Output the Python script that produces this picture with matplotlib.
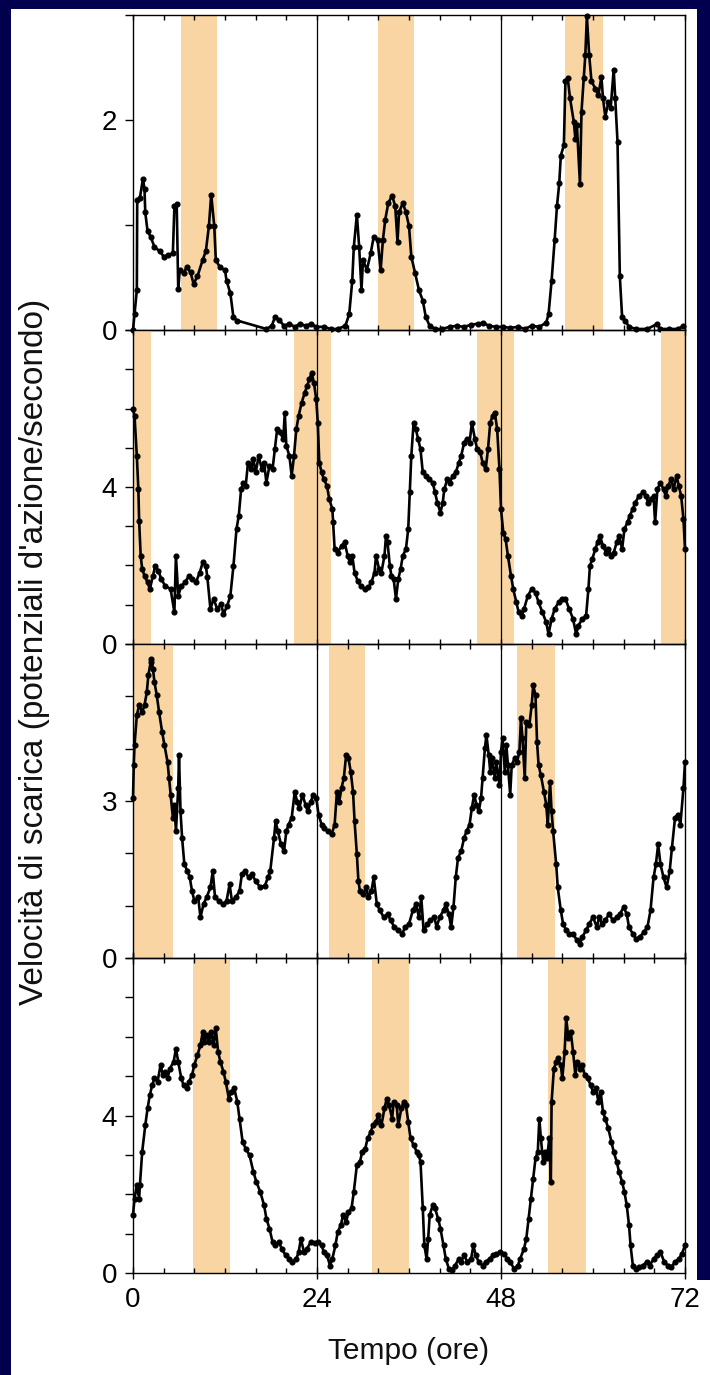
import numpy as np
import matplotlib
matplotlib.use('Agg')
import matplotlib.pyplot as plt
from matplotlib.ticker import MultipleLocator, FixedLocator
from matplotlib.patches import Rectangle

plt.rcParams['font.family'] = ['Liberation Sans', 'DejaVu Sans']

# ---- data (time in hours, rate in spikes/s)
t1 = [0.0, 0.2, 0.5, 0.55, 0.9, 1.3, 1.5, 1.6, 1.9, 2.3, 2.8, 3.5, 4.0, 4.5, 5.2, 5.4, 5.7, 5.9, 6.1, 6.6,
      7.0, 7.5, 7.9, 8.4, 9.1, 9.5, 9.9, 10.2, 10.6, 10.8, 11.3, 12.0, 12.2, 12.7, 13.1, 13.6, 17.4, 18.1, 18.5, 19.0,
      19.7, 20.4, 21.1, 21.8, 22.5, 23.2, 23.9, 24.9, 25.8, 26.7, 27.7, 28.2, 28.6, 28.8, 29.2, 29.5, 29.8, 30.0, 30.5, 31.0,
      31.4, 31.9, 32.3, 32.6, 32.9, 33.3, 33.8, 34.2, 34.5, 34.7, 35.2, 35.6, 36.0, 36.3, 36.8, 37.3, 37.8, 38.2, 38.7, 39.4,
      40.3, 41.3, 42.2, 43.2, 44.1, 45.0, 45.7, 46.4, 47.4, 48.3, 49.2, 50.2, 51.1, 52.0, 53.0, 53.9, 54.2, 54.6, 55.0, 55.3,
      55.6, 55.8, 56.2, 56.4, 56.7, 57.0, 57.5, 57.7, 57.9, 58.3, 58.5, 58.8, 59.0, 59.2, 59.5, 59.8, 60.3, 60.7, 61.1, 61.3,
      61.6, 62.0, 62.3, 62.7, 62.9, 63.2, 63.5, 63.8, 64.2, 64.7, 65.6, 67.1, 68.4, 68.7, 69.9, 71.1, 71.8]
v1 = [0.0, 0.15, 0.38, 1.24, 1.26, 1.44, 1.34, 1.12, 0.94, 0.89, 0.79, 0.75, 0.70, 0.71, 0.73, 1.18, 1.20, 0.39, 0.57, 0.54,
      0.60, 0.55, 0.44, 0.51, 0.67, 0.75, 0.99, 1.29, 0.99, 0.67, 0.60, 0.57, 0.47, 0.35, 0.12, 0.09, 0.01, 0.04, 0.12, 0.10,
      0.04, 0.06, 0.03, 0.06, 0.04, 0.06, 0.03, 0.03, 0.01, 0.01, 0.04, 0.15, 0.47, 0.79, 1.10, 0.79, 0.38, 0.67, 0.57, 0.73,
      0.89, 0.86, 0.57, 0.86, 1.05, 1.21, 1.28, 1.18, 0.84, 1.12, 1.21, 1.12, 0.99, 0.70, 0.54, 0.38, 0.28, 0.12, 0.04, 0.01,
      0.01, 0.03, 0.04, 0.03, 0.05, 0.06, 0.07, 0.04, 0.03, 0.03, 0.02, 0.03, 0.01, 0.04, 0.03, 0.07, 0.15, 0.47, 0.86, 1.18,
      1.40, 1.66, 1.76, 2.37, 2.40, 2.21, 1.98, 1.82, 1.95, 1.39, 2.08, 2.40, 2.62, 2.99, 2.62, 2.37, 2.30, 2.24, 2.41, 2.21,
      2.03, 2.17, 2.11, 2.48, 2.21, 1.79, 0.51, 0.12, 0.09, 0.03, 0.01, 0.01, 0.06, 0.01, 0.01, 0.01, 0.04]

t2 = [0.0, 0.2, 0.5, 0.7, 0.8, 1.0, 1.2, 1.5, 1.9, 2.2, 2.6, 2.9, 3.3, 3.7, 4.2, 4.9, 5.4, 5.6, 5.9, 6.3,
      6.8, 7.3, 7.7, 8.2, 8.7, 9.1, 9.5, 9.7, 10.1, 10.5, 11.0, 11.5, 11.8, 12.3, 12.7, 13.1, 13.5, 13.8, 14.1, 14.4,
      14.7, 15.0, 15.4, 15.7, 16.0, 16.4, 16.8, 17.1, 17.4, 17.8, 18.2, 18.5, 18.8, 19.2, 19.6, 19.8, 20.0, 20.4, 20.7, 21.0,
      21.3, 21.6, 22.0, 22.4, 22.7, 23.0, 23.3, 23.6, 23.9, 24.1, 24.3, 24.6, 24.9, 25.3, 25.6, 26.0, 26.1, 26.3, 26.7, 27.2,
      27.6, 28.0, 28.3, 28.6, 28.9, 29.3, 29.7, 30.2, 30.7, 31.1, 31.5, 31.7, 32.1, 32.4, 32.8, 33.0, 33.2, 33.5, 33.7, 34.0,
      34.3, 34.6, 34.9, 35.2, 35.6, 35.9, 36.1, 36.3, 36.6, 36.9, 37.2, 37.5, 37.8, 38.2, 38.6, 39.1, 39.4, 39.7, 40.1, 40.4,
      40.6, 41.0, 41.3, 41.7, 42.1, 42.5, 42.8, 43.2, 43.5, 43.9, 44.2, 44.6, 44.9, 45.3, 45.6, 46.0, 46.3, 46.6, 46.9, 47.2,
      47.5, 47.8, 48.0, 48.3, 48.6, 48.9, 49.3, 49.6, 50.0, 50.3, 50.7, 51.0, 51.5, 52.0, 52.5, 52.9, 53.4, 53.9, 54.2, 54.6,
      55.0, 55.5, 55.9, 56.4, 56.9, 57.4, 57.8, 58.1, 58.6, 59.1, 59.4, 59.6, 59.9, 60.3, 60.6, 60.9, 61.3, 61.7, 62.0, 62.4,
      62.7, 63.1, 63.4, 63.8, 64.1, 64.5, 64.8, 65.2, 65.5, 66.0, 66.5, 66.9, 67.2, 67.5, 67.9, 68.1, 68.4, 68.8, 69.2, 69.5,
      69.8, 70.2, 70.5, 70.9, 71.2, 71.5, 71.8, 72.0]
v2 = [5.98, 5.81, 4.79, 3.94, 3.14, 2.25, 1.91, 1.74, 1.57, 1.40, 1.74, 1.99, 1.87, 1.65, 1.48, 1.40, 0.81, 2.25, 1.23, 1.48,
      1.57, 1.74, 1.65, 1.57, 1.82, 2.08, 1.99, 1.70, 0.89, 1.15, 0.89, 1.02, 0.76, 0.98, 1.23, 1.99, 2.93, 3.27, 3.94, 4.11,
      4.03, 4.62, 4.45, 4.71, 4.37, 4.79, 4.45, 4.62, 4.11, 4.54, 4.45, 4.96, 5.47, 5.39, 5.22, 5.89, 5.05, 4.79, 4.28, 4.79,
      5.47, 5.81, 6.15, 6.40, 6.57, 6.74, 6.91, 6.66, 6.23, 5.64, 4.62, 4.37, 4.20, 4.03, 3.69, 3.44, 3.10, 2.42, 2.33, 2.50,
      2.59, 2.25, 2.08, 2.25, 1.82, 1.61, 1.48, 1.40, 1.44, 1.57, 1.82, 2.25, 1.91, 1.82, 2.25, 2.76, 2.59, 1.99, 1.74, 1.65,
      1.15, 1.65, 1.91, 2.25, 2.42, 2.93, 3.86, 4.79, 5.64, 5.47, 5.22, 4.96, 4.37, 4.28, 4.20, 4.11, 3.86, 3.60, 3.35, 3.60,
      3.94, 4.20, 4.11, 4.28, 4.37, 4.62, 4.79, 5.13, 5.22, 5.13, 5.64, 5.22, 4.96, 4.88, 4.62, 4.45, 4.96, 5.64, 5.81, 5.89,
      5.47, 4.45, 3.44, 2.84, 2.67, 2.25, 1.74, 1.40, 1.06, 0.81, 0.72, 0.89, 1.23, 1.40, 1.31, 1.06, 0.81, 0.55, 0.25, 0.64,
      0.89, 1.06, 1.15, 1.15, 0.89, 0.64, 0.25, 0.47, 0.64, 0.72, 1.40, 1.99, 2.16, 2.42, 2.59, 2.76, 2.50, 2.33, 2.42, 2.25,
      2.33, 2.59, 2.76, 2.42, 2.93, 3.10, 3.27, 3.44, 3.60, 3.77, 3.86, 3.77, 3.60, 3.69, 3.77, 3.10, 3.94, 4.11, 3.94, 3.77,
      4.03, 4.20, 3.94, 4.28, 4.03, 3.77, 3.18, 2.42]

t3 = [0.0, 0.1, 0.2, 0.5, 0.8, 1.2, 1.5, 1.8, 2.0, 2.3, 2.4, 2.6, 2.8, 3.1, 3.4, 3.8, 4.1, 4.5, 4.7, 4.9,
      5.2, 5.4, 5.6, 5.9, 6.0, 6.2, 6.4, 6.7, 7.1, 7.4, 7.7, 8.0, 8.5, 8.8, 9.2, 9.6, 10.1, 10.4, 10.7, 11.2,
      11.8, 12.2, 12.6, 12.9, 13.4, 13.9, 14.2, 14.6, 15.1, 15.5, 16.0, 16.6, 17.2, 17.6, 17.9, 18.4, 18.6, 18.9, 19.3, 19.7,
      20.0, 20.3, 20.7, 21.1, 21.4, 21.7, 22.1, 22.5, 22.8, 23.2, 23.5, 23.9, 24.2, 24.6, 24.9, 25.4, 25.9, 26.3, 26.6, 26.9,
      27.2, 27.5, 27.8, 28.1, 28.4, 28.7, 28.9, 29.2, 29.4, 29.6, 30.0, 30.4, 30.7, 31.1, 31.4, 31.8, 32.2, 32.7, 33.2, 33.6,
      34.1, 34.6, 35.1, 35.5, 36.0, 36.5, 36.9, 37.3, 37.6, 37.9, 38.4, 38.8, 39.3, 39.6, 40.0, 40.5, 40.8, 41.2, 41.5, 41.8,
      42.1, 42.4, 42.8, 43.2, 43.5, 43.9, 44.2, 44.5, 44.8, 45.1, 45.4, 45.6, 45.9, 46.1, 46.4, 46.6, 46.8, 47.2, 47.4, 47.8,
      48.0, 48.2, 48.5, 48.7, 48.9, 49.2, 49.4, 49.8, 50.1, 50.4, 50.6, 50.8, 51.1, 51.3, 51.7, 52.0, 52.2, 52.5, 52.7, 52.9,
      53.2, 53.6, 53.9, 54.1, 54.4, 54.6, 54.8, 55.2, 55.4, 55.8, 56.1, 56.5, 56.9, 57.4, 57.9, 58.3, 58.6, 59.1, 59.5, 60.0,
      60.5, 60.8, 61.2, 61.6, 62.1, 62.6, 63.1, 63.5, 64.0, 64.4, 64.7, 65.2, 65.6, 66.1, 66.6, 67.1, 67.5, 67.9, 68.2, 68.5,
      68.8, 69.2, 69.6, 70.0, 70.3, 70.7, 71.1, 71.4, 71.8, 72.0]
v3 = [3.06, 3.69, 4.07, 4.64, 4.83, 4.70, 4.83, 5.08, 5.40, 5.65, 5.72, 5.53, 5.27, 5.02, 4.70, 4.32, 4.07, 3.75, 3.44, 3.12,
      2.68, 2.93, 2.42, 3.25, 3.88, 2.80, 2.30, 1.79, 1.66, 1.54, 1.28, 1.09, 1.16, 0.78, 1.03, 1.16, 1.35, 1.66, 1.16, 1.09,
      1.03, 1.09, 1.41, 1.09, 1.16, 1.28, 1.60, 1.66, 1.54, 1.60, 1.47, 1.35, 1.38, 1.54, 1.66, 2.30, 2.61, 2.42, 2.17, 2.04,
      2.42, 2.55, 2.68, 3.18, 2.99, 2.87, 3.12, 2.93, 2.80, 2.99, 3.12, 3.06, 2.74, 2.55, 2.49, 2.42, 2.36, 2.55, 3.18, 2.99,
      3.25, 3.44, 3.88, 3.82, 3.56, 3.18, 2.61, 1.98, 1.47, 1.28, 1.22, 1.35, 1.16, 1.28, 1.54, 1.03, 0.91, 0.78, 0.84, 0.72,
      0.59, 0.53, 0.46, 0.59, 0.65, 0.91, 1.03, 0.78, 1.16, 0.53, 0.65, 0.72, 0.78, 0.59, 0.78, 0.91, 1.03, 0.84, 0.59, 0.97,
      1.54, 1.92, 2.04, 2.30, 2.42, 2.55, 2.87, 3.12, 2.93, 2.80, 3.06, 3.44, 4.01, 4.26, 3.88, 3.56, 3.82, 3.44, 3.75, 3.31,
      3.94, 4.20, 3.56, 4.07, 3.69, 3.12, 3.69, 3.82, 3.75, 3.94, 4.58, 4.20, 3.44, 4.51, 4.45, 4.83, 5.21, 5.02, 4.13, 3.69,
      3.49, 3.18, 2.93, 2.55, 3.37, 2.80, 2.42, 1.79, 1.35, 0.91, 0.65, 0.53, 0.46, 0.46, 0.34, 0.27, 0.40, 0.53, 0.65, 0.78,
      0.59, 0.78, 0.65, 0.72, 0.84, 0.72, 0.78, 0.84, 0.97, 0.84, 0.59, 0.46, 0.37, 0.40, 0.49, 0.59, 0.91, 1.54, 1.79, 2.17,
      1.79, 1.54, 1.35, 1.66, 2.11, 2.68, 2.74, 2.55, 3.25, 3.75]

t4 = [0.0, 0.2, 0.5, 0.8, 0.9, 1.2, 1.6, 1.9, 2.2, 2.5, 2.8, 3.2, 3.6, 3.9, 4.2, 4.5, 4.8, 5.3, 5.6, 5.9,
      6.3, 6.6, 7.0, 7.3, 7.7, 8.0, 8.4, 8.8, 9.1, 9.3, 9.6, 9.9, 10.2, 10.5, 10.8, 11.1, 11.4, 11.8, 12.1, 12.5,
      12.8, 13.2, 13.6, 13.9, 14.3, 14.7, 15.2, 15.7, 16.1, 16.6, 17.1, 17.4, 17.8, 18.2, 18.5, 19.0, 19.4, 19.9, 20.4, 20.8,
      21.3, 21.6, 21.9, 22.3, 22.7, 23.2, 23.7, 24.1, 24.6, 24.9, 25.3, 25.7, 26.0, 26.4, 26.7, 27.1, 27.4, 27.8, 28.1, 28.5,
      28.8, 29.2, 29.6, 29.9, 30.3, 30.6, 31.0, 31.3, 31.7, 32.0, 32.4, 32.8, 33.1, 33.4, 33.8, 34.0, 34.4, 34.6, 35.0, 35.3,
      35.6, 35.9, 36.2, 36.6, 37.0, 37.3, 37.5, 37.8, 38.0, 38.3, 38.5, 38.7, 39.1, 39.4, 39.8, 40.1, 40.5, 40.8, 41.2, 41.6,
      42.0, 42.5, 42.8, 43.2, 43.6, 44.1, 44.4, 44.7, 45.1, 45.6, 46.0, 46.5, 47.0, 47.4, 47.9, 48.4, 48.8, 49.2, 49.7, 50.2,
      50.5, 51.0, 51.3, 51.6, 51.9, 52.2, 52.5, 52.8, 53.0, 53.2, 53.5, 53.8, 54.0, 54.3, 54.5, 54.6, 54.9, 55.2, 55.4, 55.8,
      56.0, 56.3, 56.5, 56.8, 57.1, 57.4, 57.7, 57.9, 58.3, 58.6, 58.9, 59.3, 59.7, 60.0, 60.4, 60.7, 61.0, 61.3, 61.6, 62.0,
      62.4, 62.7, 63.1, 63.4, 63.8, 64.1, 64.4, 64.7, 64.9, 65.2, 65.6, 66.0, 66.5, 67.0, 67.4, 67.9, 68.4, 68.8, 69.3, 69.8,
      70.2, 70.7, 71.2, 71.6, 72.0]
v4 = [1.47, 1.89, 2.23, 1.89, 2.23, 3.08, 3.75, 4.18, 4.52, 4.77, 4.94, 4.86, 5.28, 5.03, 5.11, 4.94, 5.19, 5.36, 5.70, 5.36,
      4.94, 4.77, 4.69, 4.86, 5.03, 5.28, 5.53, 5.79, 6.13, 5.87, 6.04, 5.87, 6.13, 5.79, 6.21, 5.62, 5.36, 5.11, 4.86, 4.43,
      4.60, 4.69, 4.35, 3.92, 3.33, 3.16, 2.99, 2.57, 2.31, 2.06, 1.72, 1.38, 1.13, 0.79, 0.70, 0.79, 0.62, 0.45, 0.36, 0.28,
      0.36, 0.53, 0.87, 0.53, 0.62, 0.79, 0.75, 0.79, 0.70, 0.53, 0.45, 0.19, 0.36, 0.70, 1.04, 1.21, 1.47, 1.30, 1.55, 1.64,
      2.06, 2.74, 2.82, 3.08, 3.16, 3.42, 3.58, 3.75, 3.84, 4.01, 3.75, 4.18, 4.43, 4.26, 3.92, 4.35, 4.26, 3.75, 4.18, 4.35,
      4.26, 3.84, 3.42, 3.25, 3.08, 2.99, 2.82, 1.64, 0.70, 0.36, 0.87, 1.47, 1.72, 1.64, 1.38, 1.13, 0.70, 0.36, 0.11, 0.07,
      0.19, 0.36, 0.28, 0.45, 0.28, 0.36, 0.70, 0.45, 0.28, 0.19, 0.28, 0.36, 0.45, 0.49, 0.53, 0.49, 0.36, 0.28, 0.11, 0.19,
      0.36, 0.62, 0.87, 1.38, 1.89, 2.40, 2.91, 3.08, 3.92, 3.42, 2.82, 3.08, 2.91, 3.42, 2.31, 4.35, 5.19, 5.36, 5.45, 5.28,
      4.94, 5.62, 6.47, 5.96, 6.13, 5.62, 5.03, 5.36, 5.19, 5.28, 5.03, 4.94, 4.77, 4.60, 4.69, 4.35, 4.60, 4.09, 3.92, 3.67,
      3.33, 3.08, 2.82, 2.57, 2.31, 2.06, 1.72, 1.21, 0.70, 0.19, 0.11, 0.15, 0.19, 0.28, 0.19, 0.36, 0.45, 0.53, 0.28, 0.19,
      0.15, 0.28, 0.36, 0.49, 0.70]

# orange shaded intervals (hours) for each panel
bands1 = [(6.3, 11.0), (31.9, 36.7), (56.4, 61.3)]
bands2 = [(0.0, 2.4), (21.0, 25.8), (44.9, 49.7), (68.9, 72.0)]
bands3 = [(0.0, 5.2), (25.5, 30.3), (50.1, 55.0)]
bands4 = [(7.8, 12.6), (31.2, 36.0), (54.1, 59.1)]

ymax = [3, 8, 6, 8]
ylab_ticks = [[0, 2], [0, 4], [0, 3], [0, 4]]
xlab_ticks = [0, 24, 48, 72]

navy = '#02004e'
band_col = '#f9d5a3'

W, H = 710, 1375
fig = plt.figure(figsize=(W/100., H/100.), dpi=100)
fig.patch.set_facecolor(navy)

# white slide area (behind the axes)
fig.patches.append(Rectangle((11./W, 0), (697.-11.)/W, (H-9.)/H, transform=fig.transFigure,
                             facecolor='white', edgecolor='none', zorder=-10))
fig.patches.append(Rectangle((697./W, 0), (W-697.)/W, (H-1280.)/H, transform=fig.transFigure,
                             facecolor='white', edgecolor='none', zorder=-10))

edges = [15, 330, 644, 958, 1273]
left = 133./W
width = 552./W

series = [(t1, v1, bands1), (t2, v2, bands2), (t3, v3, bands3), (t4, v4, bands4)]

for k in range(4):
    top_px, bot_px = edges[k], edges[k+1]
    ax = fig.add_axes([left, 1 - bot_px/float(H), width, (bot_px - top_px)/float(H)])
    ax.set_zorder(5)
    ax.set_facecolor('none')
    t, v, bands = series[k]
    for b in bands:
        ax.axvspan(b[0], b[1], color=band_col, lw=0, zorder=0)
    for xv in (24, 48):
        ax.axvline(xv, color='black', lw=0.9, zorder=1)
    ax.plot(t, v, color='black', lw=1.9, marker='o', ms=3.4, zorder=3, clip_on=False)
    ax.set_xlim(0, 72)
    ax.set_ylim(0, ymax[k])

    for s in ax.spines.values():
        s.set_linewidth(1.0)
        s.set_color('black')

    ax.xaxis.set_major_locator(FixedLocator(xlab_ticks))
    ax.xaxis.set_minor_locator(MultipleLocator(4))
    ax.yaxis.set_major_locator(FixedLocator(ylab_ticks[k]))
    ax.yaxis.set_minor_locator(MultipleLocator(1))

    ax.tick_params(axis='y', which='both', direction='out', length=5.5, width=1.0,
                   labelsize=20, pad=6, colors='black')
    if k == 3:
        ax.tick_params(axis='x', which='major', direction='inout', length=8, width=1.0,
                       top=True, bottom=True, labelsize=20, pad=6)
        ax.tick_params(axis='x', which='minor', direction='in', length=3.5, width=1.0,
                       top=True, bottom=True)
    else:
        ax.tick_params(axis='x', which='both', direction='in', length=3.5, width=1.0,
                       top=True, bottom=True, labelbottom=False)

fig.text(35./W, 1 - 652./H, "Velocit\u00e0 di scarica (potenziali d'azione/secondo)",
         rotation=90, ha='center', va='center', fontsize=24, color='#111111')
fig.text(409./W, 1 - 1351./H, 'Tempo (ore)', ha='center', va='center', fontsize=21.5, color='#111111')

fig.savefig('out.png', dpi=100, facecolor=fig.get_facecolor())
